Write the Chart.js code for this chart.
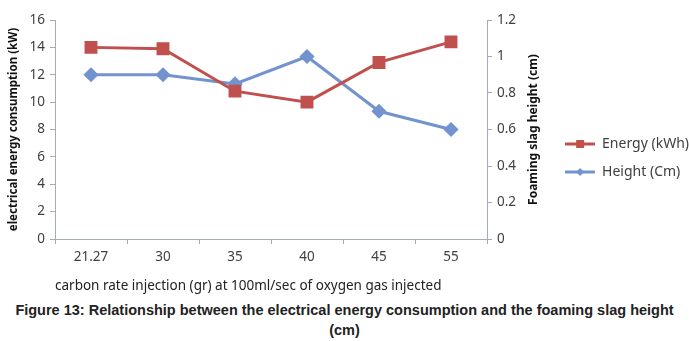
<!DOCTYPE html>
<html lang="en">
<head>
    <meta charset="UTF-8">
    <title>Figure 13</title>
    <script src="https://cdn.jsdelivr.net/npm/chart.js"></script>
    <style>
        html, body { margin: 0; padding: 0; background: #fff; }
        #wrap { position: relative; width: 689px; height: 296px; }
        #caption {
            width: 689px;
            text-align: center;
            font-family: "Liberation Sans", Arial, sans-serif;
            font-weight: bold;
            font-size: 14.5px;
            line-height: 20px;
            color: #222;
            padding-top: 4px;
        }
    </style>
</head>
<body>
    <div id="wrap">
        <canvas id="lineChart"></canvas>
    </div>
    <div id="caption">Figure 13: Relationship between the electrical energy consumption and the foaming slag height<br>(cm)</div>

    <script>
    // data
    var categories = ['21.27', '30', '35', '40', '45', '55'];
    var energyValues = [14, 13.9, 10.8, 10, 12.9, 14.4];
    var heightValues = [0.9, 0.9, 0.85, 1.0, 0.7, 0.6];
    var energyTicks = [0, 2, 4, 6, 8, 10, 12, 14, 16];
    var heightTicks = [0, 0.2, 0.4, 0.6, 0.8, 1, 1.2];

    var RED = '#C0504D';
    var BLUE = '#7393CF';
    var AXIS = '#A3ACB8';
    var TEXT = '#404040';
    var FONT = '"Noto Sans", sans-serif';
    var PLOT_RIGHT = 487;

    // small line + marker image for legend entries
    function legendIcon(color, shape) {
        var c = document.createElement('canvas');
        c.width = 30; c.height = 12;
        var g = c.getContext('2d');
        g.strokeStyle = color;
        g.lineWidth = 3;
        g.beginPath();
        g.moveTo(0, 6); g.lineTo(30, 6);
        g.stroke();
        g.fillStyle = color;
        if (shape === 'square') {
            g.fillRect(11, 2, 8, 8);
        } else {
            g.beginPath();
            g.moveTo(15, 2); g.lineTo(19, 6); g.lineTo(15, 10); g.lineTo(11, 6);
            g.closePath();
            g.fill();
        }
        return c;
    }

    // right axis title reads bottom to top, like the left one
    var rightTitle = {
        id: 'rightTitle',
        afterDraw: function (chart) {
            var s = chart.scales.y1;
            var ctx = chart.ctx;
            ctx.save();
            ctx.translate(s.left + 47, (chart.chartArea.top + chart.chartArea.bottom) / 2);
            ctx.rotate(-Math.PI / 2);
            ctx.font = 'bold 12px ' + FONT;
            ctx.fillStyle = '#111';
            ctx.textAlign = 'center';
            ctx.textBaseline = 'middle';
            ctx.fillText('Foaming slag height (cm)', 0, 0);
            ctx.restore();
        }
    };

    function plainTick(value) {
        return String(value);
    }

    function buildChart() {
        var ctx = document.getElementById('lineChart').getContext('2d');
        window.myChart = new Chart(ctx, {
            type: 'line',
            data: {
                labels: categories,
                datasets: [{
                    label: 'Energy (kWh)',
                    data: energyValues,
                    yAxisID: 'y',
                    borderColor: RED,
                    backgroundColor: RED,
                    borderWidth: 3,
                    pointStyle: 'rect',
                    pointRadius: 7,
                    pointHoverRadius: 7,
                    tension: 0,
                    fill: false
                }, {
                    label: 'Height (Cm)',
                    data: heightValues,
                    yAxisID: 'y1',
                    borderColor: BLUE,
                    backgroundColor: BLUE,
                    borderWidth: 3,
                    pointStyle: 'rectRot',
                    pointRadius: 5.5,
                    pointHoverRadius: 5.5,
                    tension: 0,
                    fill: false
                }]
            },
            options: {
                responsive: true,
                maintainAspectRatio: false,
                animation: false,
                layout: { padding: { top: 20, left: 0, right: -10, bottom: 0 } },
                scales: {
                    x: {
                        offset: true,
                        grid: {
                            display: true,
                            offset: true,
                            drawOnChartArea: false,
                            drawTicks: true,
                            tickLength: 5,
                            color: AXIS
                        },
                        border: { color: AXIS, width: 1 },
                        ticks: { color: TEXT, font: { family: FONT, size: 13.5 }, padding: 5, maxRotation: 0 },
                        title: {
                            display: true,
                            align: 'start',
                            text: 'carbon rate injection (gr) at 100ml/sec of oxygen gas injected',
                            color: '#222',
                            font: { family: FONT, size: 13.5 },
                            padding: { top: 4, bottom: 2 }
                        },
                        afterFit: function (s) { s.height = 57; }
                    },
                    y: {
                        position: 'left',
                        min: 0,
                        max: 16,
                        afterBuildTicks: function (s) { s.ticks = energyTicks.map(function (v) { return { value: v }; }); },
                        grid: {
                            display: true,
                            drawOnChartArea: false,
                            drawTicks: true,
                            tickLength: 5,
                            color: AXIS
                        },
                        border: { color: AXIS, width: 1 },
                        ticks: { color: TEXT, font: { family: FONT, size: 13.5 }, padding: 5, callback: plainTick },
                        title: {
                            display: true,
                            text: 'electrical energy consumption (kW)',
                            color: '#111',
                            font: { family: FONT, size: 11.5, weight: 'bold' },
                            padding: { top: 7, bottom: 0 }
                        },
                        afterFit: function (s) { s.width = 55; }
                    },
                    y1: {
                        position: 'right',
                        min: 0,
                        max: 1.2,
                        afterBuildTicks: function (s) { s.ticks = heightTicks.map(function (v) { return { value: v }; }); },
                        grid: {
                            display: true,
                            drawOnChartArea: false,
                            drawTicks: true,
                            tickLength: 5,
                            color: AXIS
                        },
                        border: { color: AXIS, width: 1 },
                        ticks: { color: TEXT, font: { family: FONT, size: 13.5 }, padding: 5, callback: plainTick },
                        afterFit: function (s) {
                            var lw = s.chart.legend ? s.chart.legend.width : 145;
                            s.width = s.chart.width + 10 - PLOT_RIGHT - lw;
                        }
                    }
                },
                plugins: {
                    legend: {
                        display: true,
                        position: 'right',
                        maxWidth: 200,
                        labels: {
                            usePointStyle: true,
                            pointStyleWidth: 30,
                            padding: 14,
                            color: TEXT,
                            font: { family: FONT, size: 14 },
                            generateLabels: function (chart) {
                                return chart.data.datasets.map(function (ds, i) {
                                    return {
                                        text: ds.label,
                                        pointStyle: legendIcon(ds.borderColor, i === 0 ? 'square' : 'diamond'),
                                        fillStyle: ds.borderColor,
                                        strokeStyle: ds.borderColor,
                                        lineWidth: 0,
                                        fontColor: TEXT,
                                        datasetIndex: i,
                                        hidden: false
                                    };
                                });
                            }
                        }
                    },
                    tooltip: { enabled: false }
                }
            },
            plugins: [rightTitle]
        });
    }

    Promise.all([
        document.fonts.load('13px "Noto Sans"'),
        document.fonts.load('bold 12px "Noto Sans"')
    ]).then(buildChart, buildChart);
    </script>
</body>
</html>
